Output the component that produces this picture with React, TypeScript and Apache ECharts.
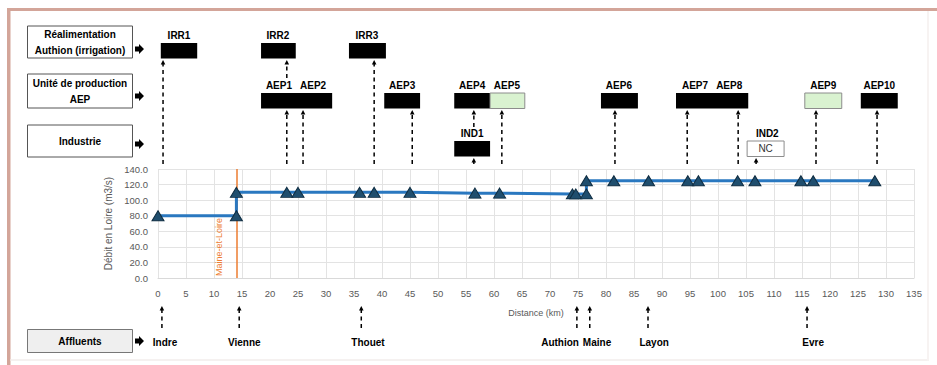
import React, { useEffect, useRef } from 'react';
import * as echarts from 'echarts';

// ---- Data ----
const distanceKm = [0, 14, 14, 23, 25, 36, 38.6, 45, 56.6, 61, 74, 74.6, 76.5, 76.5, 81.4, 87.6, 94.6, 96.5, 103.5, 106.6, 114.8, 117, 128];
const debitLoire = [80, 80, 110, 110, 110, 110, 110, 110, 109, 109, 108, 108, 108, 125, 125, 125, 125, 125, 125, 125, 125, 125, 125];

const xMin = 0;
const xMax = 135;
const xInterval = 5;
const yMin = 0;
const yMax = 140;
const yInterval = 20;

const boundaryKm = 14;
const boundaryName = 'Maine-et-Loire';

const rowNames = ['Réalimentation\nAuthion (irrigation)', 'Unité de production\nAEP', 'Industrie'];

// withdrawal blocks: row index, from km, to km, kind
const blockRow = [0, 0, 0, 1, 1, 1, 1, 1, 1, 1, 1, 2, 2];
const blockFrom = [0.5, 18.4, 34.1, 18.4, 40.4, 52.9, 59.3, 79.1, 92.5, 115.5, 125.5, 52.9, 105.2];
const blockTo = [7.0, 24.6, 40.7, 31.1, 46.8, 59.3, 65.5, 85.7, 105.4, 122.1, 132.1, 59.3, 111.8];
const blockKind = ['black', 'black', 'black', 'black', 'black', 'black', 'green', 'black', 'black', 'green', 'black', 'black', 'nc'];

// withdrawal names and their label centre (km)
const withdrawalNames = ['IRR1', 'IRR2', 'IRR3', 'AEP1', 'AEP2', 'AEP3', 'AEP4', 'AEP5', 'AEP6', 'AEP7', 'AEP8', 'AEP9', 'AEP10', 'IND1', 'IND2'];
const withdrawalRow = [0, 0, 0, 1, 1, 1, 1, 1, 1, 1, 1, 1, 1, 2, 2];
const withdrawalLabelKm = [3.75, 21.4, 37.3, 21.6, 27.7, 43.6, 56.1, 62.3, 82.3, 95.9, 102, 118.8, 128.8, 56.1, 108.8];

// dashed link arrows: km, start (from), target row
const linkKm = [0.9, 23, 38.6, 23, 25.9, 45.4, 56.4, 56.4, 61.4, 81.6, 94.5, 103.6, 106.8, 117.5, 128.4];
const linkFrom = ['plot', 'aep', 'plot', 'plot', 'plot', 'plot', 'ind', 'plot', 'plot', 'plot', 'plot', 'plot', 'plot', 'plot', 'plot'];
const linkTo = [0, 0, 0, 1, 1, 1, 1, 2, 1, 1, 1, 1, 2, 1, 1];

// tributaries
const tributaryNames = ['Indre', 'Vienne', 'Thouet', 'Authion', 'Maine', 'Layon', 'Evre'];
const tributaryKm = [0.7, 14.5, 36.3, 74.8, 77.1, 87.5, 115.9];
const tributaryLabelKm = [1.25, 15.4, 37.5, 71.8, 78.4, 88.6, 117];

// ---- Layout ----
const W = 937;
const H = 365;
const GRID_LEFT = 158;
const GRID_TOP = 169;
const GRID_W = 756;
const GRID_H = 109;
const ROW_LABEL_Y = [35, 85, 133];
const ROW_BOX_TOP = [43, 93, 141];
const ROW_BOX_H = 15.5;
const ROW_ARROW_Y = [49, 96, 144];
const LEFT_BOX = [
  { y: 26, h: 32 },
  { y: 74, h: 34 },
  { y: 125, h: 32 },
];
const FONT = '"Liberation Sans", Arial, sans-serif';
const BOLD10 = `bold 10px ${FONT}`;

function blockArrow(x: number, y: number) {
  return {
    type: 'polygon',
    shape: {
      points: [
        [x, y - 2.6],
        [x + 4, y - 2.6],
        [x + 4, y - 5],
        [x + 9, y],
        [x + 4, y + 5],
        [x + 4, y + 2.6],
        [x, y + 2.6],
      ],
    },
    style: { fill: '#000' },
  };
}

function dashedUpArrow(x: number, yBottom: number, yTip: number) {
  return [
    {
      type: 'line',
      shape: { x1: x, y1: yBottom, x2: x, y2: yTip + 4 },
      style: { stroke: '#000', lineWidth: 1.5, lineDash: [4, 3.5] },
    },
    {
      type: 'polygon',
      shape: { points: [[x - 2.3, yTip + 4.5], [x + 2.3, yTip + 4.5], [x, yTip]] },
      style: { fill: '#000' },
    },
  ];
}

function text(x: number, y: number, t: string, font: string, fill = '#000', align = 'center', extra: any = {}) {
  return {
    type: 'text',
    x,
    y,
    ...extra,
    style: {
      text: t,
      font,
      fill,
      align,
      textAlign: align,
      verticalAlign: 'middle',
      textVerticalAlign: 'middle',
      lineHeight: 16,
    },
  };
}

function buildGraphics(px: (km: number) => number) {
  const g: any[] = [];
  // frame
  g.push({ type: 'rect', shape: { x: 7, y: 8, width: W - 7, height: 3 }, style: { fill: '#d3a599' } });
  g.push({ type: 'rect', shape: { x: 7, y: 8, width: 3.5, height: H - 8 }, style: { fill: '#d3a599' } });
  g.push({ type: 'rect', shape: { x: 10.5, y: 359, width: 918, height: 2 }, style: { fill: '#f5f1f0' } });
  g.push({ type: 'rect', shape: { x: 927, y: 11, width: 2, height: 350 }, style: { fill: '#f7f3f2' } });

  // left category boxes
  rowNames.forEach((name, i) => {
    const b = LEFT_BOX[i];
    g.push({ type: 'rect', shape: { x: 27.5, y: b.y, width: 105, height: b.h }, style: { fill: '#fff', stroke: '#555', lineWidth: 1 } });
    g.push(text(80, b.y + b.h / 2, name, BOLD10));
    g.push(blockArrow(135, ROW_ARROW_Y[i]));
  });
  // tributaries box
  g.push({ type: 'rect', shape: { x: 27.5, y: 329.5, width: 105, height: 23 }, style: { fill: '#efefef', stroke: '#777', lineWidth: 1 } });
  g.push(text(80, 341, 'Affluents', BOLD10));
  g.push(blockArrow(135, 341));

  // blocks
  blockRow.forEach((r, i) => {
    const x1 = px(blockFrom[i]);
    const x2 = px(blockTo[i]);
    const kind = blockKind[i];
    const style =
      kind === 'black'
        ? { fill: '#000' }
        : kind === 'green'
        ? { fill: '#d9f2d0', stroke: '#8c8c8c', lineWidth: 1 }
        : { fill: '#fff', stroke: '#8c8c8c', lineWidth: 1 };
    g.push({ type: 'rect', shape: { x: x1, y: ROW_BOX_TOP[r], width: x2 - x1, height: ROW_BOX_H }, style });
    if (kind === 'nc') {
      g.push(text((x1 + x2) / 2, ROW_BOX_TOP[r] + ROW_BOX_H / 2, 'NC', `10px ${FONT}`, '#333'));
    }
  });

  // labels
  withdrawalNames.forEach((n, i) => {
    g.push(text(px(withdrawalLabelKm[i]), ROW_LABEL_Y[withdrawalRow[i]], n, BOLD10));
  });

  // dashed links
  linkKm.forEach((km, i) => {
    const x = px(km);
    const from = linkFrom[i];
    const to = linkTo[i];
    const tip = ROW_BOX_TOP[to] + ROW_BOX_H + 1.5;
    let bottom = 164;
    if (from === 'aep') bottom = 78;
    if (from === 'ind') bottom = 127;
    g.push(...dashedUpArrow(x, bottom, tip));
  });

  // tributaries
  tributaryNames.forEach((n, i) => {
    g.push(...dashedUpArrow(px(tributaryKm[i]), 328, 306));
    g.push(text(px(tributaryLabelKm[i]), 342, n, BOLD10));
  });

  // boundary label
  g.push(
    text(px(boundaryKm) - 17, 276, boundaryName, `9px ${FONT}`, '#ed7d31', 'left', { rotation: Math.PI / 2 })
  );
  return g;
}

export default function App() {
  const ref = useRef<HTMLDivElement>(null);
  useEffect(() => {
    const chart = echarts.init(ref.current!, null, { renderer: 'svg' });
    const axisLabel = { color: '#595959', fontSize: 9.5, fontFamily: FONT };
    chart.setOption({
      animation: false,
      backgroundColor: '#fff',
      grid: { left: GRID_LEFT, top: GRID_TOP, width: GRID_W, height: GRID_H, containLabel: false },
      xAxis: {
        type: 'value',
        min: xMin,
        max: xMax,
        interval: xInterval,
        name: 'Distance (km)',
        nameLocation: 'middle',
        nameGap: 30,
        nameTextStyle: { color: '#595959', fontSize: 9, fontFamily: FONT },
        axisLine: { show: true, lineStyle: { color: '#d9d9d9' } },
        axisTick: { show: false },
        axisLabel: { ...axisLabel, margin: 10 },
        splitLine: { show: true, lineStyle: { color: '#e3e3e3', width: 1 } },
      },
      yAxis: {
        type: 'value',
        min: yMin,
        max: yMax,
        interval: yInterval,
        name: 'Débit en Loire (m3/s)',
        nameLocation: 'middle',
        nameGap: 42,
        nameTextStyle: { color: '#595959', fontSize: 10, fontFamily: FONT },
        axisLine: { show: false },
        axisTick: { show: false },
        axisLabel: { ...axisLabel, margin: 10, formatter: (v: number) => v.toFixed(1) },
        splitLine: { show: true, lineStyle: { color: '#e3e3e3', width: 1 } },
      },
      series: [
        {
          type: 'line',
          data: distanceKm.map((d, i) => [d, debitLoire[i]]),
          lineStyle: { color: '#2a78c0', width: 3 },
          symbol: 'triangle',
          symbolSize: [12, 10],
          itemStyle: { color: '#1f4e6e', borderColor: '#0f2d42', borderWidth: 1 },
          z: 3,
          markLine: {
            silent: true,
            symbol: 'none',
            label: { show: false },
            lineStyle: { color: '#ed7d31', width: 1.5, type: 'solid' },
            data: [{ xAxis: boundaryKm }],
            z: 2,
          },
        },
      ],
    });
    const px = (km: number) => chart.convertToPixel({ xAxisIndex: 0 }, km) as number;
    chart.setOption({ graphic: buildGraphics(px) });
    return () => chart.dispose();
  }, []);
  return <div ref={ref} style={{ position: 'absolute', left: 0, top: 0, width: W, height: H }} />;
}
